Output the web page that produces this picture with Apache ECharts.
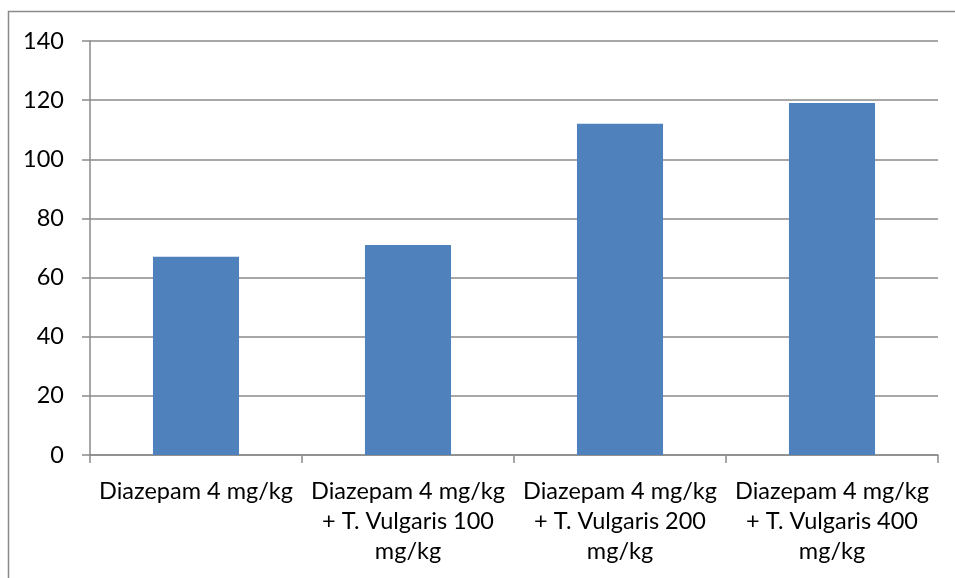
<!DOCTYPE html>
<html><head><meta charset="utf-8">
<script src="https://cdn.jsdelivr.net/npm/echarts@6/dist/echarts.min.js"></script>
<style>html,body{margin:0;padding:0;background:#fff}#c{width:955px;height:578px}</style>
</head><body><div id="c"></div>
<script>
const categories = [
  "Diazepam 4 mg/kg",
  "Diazepam 4 mg/kg\n+ T. Vulgaris 100\nmg/kg",
  "Diazepam 4 mg/kg\n+ T. Vulgaris 200\nmg/kg",
  "Diazepam 4 mg/kg\n+ T. Vulgaris 400\nmg/kg"
];
const values = [67, 71, 112, 119];
const yTicks = [0, 20, 40, 60, 80, 100, 120, 140];

const chart = echarts.init(document.getElementById('c'), null, {renderer: 'canvas'});
const font = 'Lato';
chart.setOption({
  animation: false,
  backgroundColor: '#fff',
  graphic: [{
    type: 'rect', silent: true,
    shape: {x: 8.5, y: 11.5, width: 1200, height: 1200},
    style: {fill: 'none', stroke: '#8a8a8a', lineWidth: 1.5}
  }],
  grid: {left: 90, right: 17, top: 41, bottom: 123, containLabel: false},
  xAxis: {
    type: 'category',
    data: categories,
    boundaryGap: true,
    axisLine: {show: true, lineStyle: {color: '#8a8a8a', width: 1.5}},
    axisTick: {show: true, length: 8, lineStyle: {color: '#8a8a8a', width: 1.5}},
    axisLabel: {color: '#000', fontFamily: font, fontSize: 23.5, lineHeight: 30, margin: 21, interval: 0}
  },
  yAxis: {
    type: 'value',
    min: yTicks[0], max: yTicks[yTicks.length - 1], interval: 20,
    axisLine: {show: true, lineStyle: {color: '#8a8a8a', width: 1.5}},
    axisTick: {show: true, length: 8, lineStyle: {color: '#8a8a8a', width: 1.5}},
    splitLine: {show: true, lineStyle: {color: '#8a8a8a', width: 1.5}},
    axisLabel: {color: '#000', fontFamily: font, fontSize: 23.5, margin: 26}
  },
  series: [{
    type: 'bar',
    data: values,
    barWidth: '40.6%',
    itemStyle: {color: '#4F81BD'}
  }]
});
</script></body></html>
